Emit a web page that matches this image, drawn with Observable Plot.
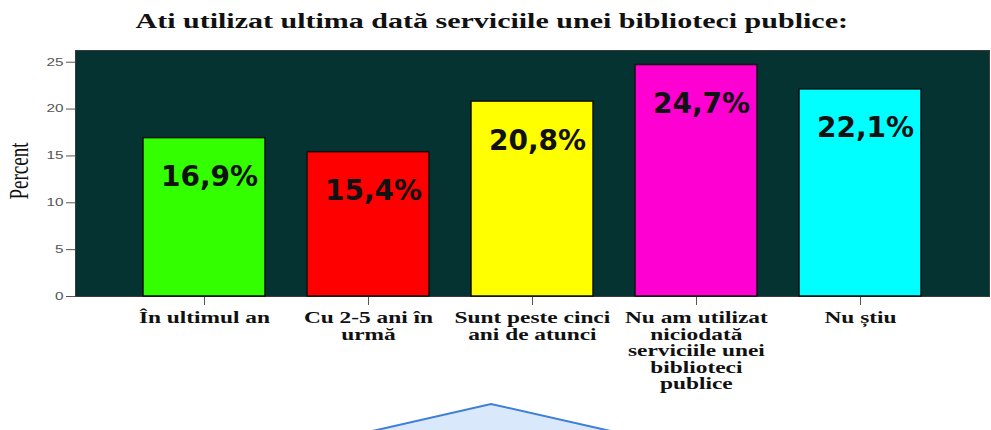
<!DOCTYPE html>
<html>
<head>
<meta charset="utf-8">
<script src="https://cdn.jsdelivr.net/npm/d3@7"></script>
<script src="https://cdn.jsdelivr.net/npm/@observablehq/plot@0.6"></script>
<style>
  html, body { margin: 0; padding: 0; background: #fff; }
  body { width: 991px; height: 430px; position: relative; overflow: hidden; }
  #title {
    box-sizing: border-box; height: 45px; padding-top: 11px; padding-right: 8px;
    font: bold 20px "Liberation Serif", serif; line-height: 20px; color: #111;
    text-align: center; transform: scaleX(1.5); transform-origin: 491px center;
    white-space: nowrap;
  }
  #chart { height: 385px; }
  #deco { position: absolute; left: 360px; top: 400px; }
</style>
</head>
<body>
<div id="title">Ati utilizat ultima dată serviciile unei biblioteci publice:</div>
<div id="chart"></div>
<svg id="deco" width="265" height="32"><polygon points="8,32 131,4 255,32" fill="#dae8fc" stroke="#3d7fd9" stroke-width="2"/></svg>
<script>
const categories = ["În ultimul an", "Cu 2-5 ani în urmă", "Sunt peste cinci ani de atunci", "Nu am utilizat niciodată serviciile unei biblioteci publice", "Nu știu"];
const values = [16.9, 15.4, 20.8, 24.7, 22.1];
const tickLabels = ["În ultimul an", "Cu 2-5 ani în\nurmă", "Sunt peste cinci\nani de atunci", "Nu am utilizat\nniciodată\nserviciile unei\nbiblioteci\npublice", "Nu știu"];
const barColors = ["#33ff00", "#ff0000", "#ffff00", "#ff00d2", "#00ffff"];
const yTicks = [0, 5, 10, 15, 20, 25];
const yLabel = "Percent";

const rows = categories.map((c, i) => ({cat: c, value: values[i], label: tickLabels[i]}));
const fmt = v => v.toFixed(1).replace(".", ",") + "%";

const chart = Plot.plot({
  width: 991,
  height: 385,
  marginTop: 5,
  marginLeft: 75,
  marginRight: 2,
  marginBottom: 134,
  style: {background: "white", color: "#555", fontFamily: "Liberation Sans, Arial, sans-serif", fontSize: "10.5px"},
  x: {domain: categories, paddingInner: 0.2575, paddingOuter: 0.41, tickSize: 9, tickFormat: () => "", label: null},
  y: {domain: [0, 26.25], ticks: yTicks, tickSize: 9, tickPadding: 3, tickFormat: d => String(d), label: null},
  color: {domain: categories, range: barColors},
  marks: [
    Plot.frame({fill: "#053331", stroke: "#3a3a3a"}),
    Plot.barY(rows, {x: "cat", y: "value", fill: "cat", stroke: "#111", strokeWidth: 1.5}),
    Plot.text(rows, {x: "cat", y: "value", text: d => fmt(d.value), dy: 39, dx: 5,
      fontSize: 28, fontWeight: "bold", fontFamily: "DejaVu Sans", fill: "#111"}),
    Plot.text(rows, {x: "cat", y: () => 0, text: "label", lineAnchor: "top", dy: 15, lineHeight: 1.03,
      fontSize: 16, fontWeight: "bold", fontFamily: "Liberation Serif", fill: "#111"}),
    Plot.text([yLabel], {frameAnchor: "left", dx: -57, dy: 26, rotate: -90,
      fontSize: 19, fontFamily: "Liberation Serif", fill: "#111"})
  ]
});
document.getElementById("chart").appendChild(chart);

// horizontal stretch of serif / axis texts (the reference is widened)
function stretch(el, k) {
  const b = el.getBBox();
  const anchor = getComputedStyle(el).textAnchor;
  let ox = anchor === "end" ? b.x + b.width : anchor === "middle" ? b.x + b.width / 2 : b.x;
  if (/rotate/.test(el.getAttribute("transform") || "")) ox = b.x + b.width / 2;
  const oy = b.y + b.height / 2;
  let px = ox, py = oy;
  const tl = el.transform.baseVal.consolidate();
  if (tl) { const M = tl.matrix; px = M.a * ox + M.c * oy + M.e; py = M.b * ox + M.d * oy + M.f; }
  const prev = el.getAttribute("transform") || "";
  el.setAttribute("transform", `translate(${px},${py}) scale(${k},1) translate(${-px},${-py}) ${prev}`);
}
chart.querySelectorAll("text").forEach(el => {
  const ff = el.closest("[font-family]");
  if (ff && /DejaVu/.test(ff.getAttribute("font-family"))) return;
  if (!el.textContent.trim()) return;
  stretch(el, 1.46);
});
</script>
</body>
</html>
